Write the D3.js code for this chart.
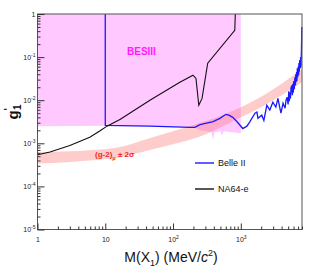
<!DOCTYPE html>
<html>
<head>
<meta charset="utf-8">
<script src="https://cdn.jsdelivr.net/npm/d3@7"></script>
<style>
body { margin: 0; background: #fff; }
text { font-family: "Liberation Sans", Arial, sans-serif; }
</style>
</head>
<body>
<div id="chart"></div>
<script>
// values (mass in MeV, coupling g'1)
const besBottomM = [1, 10, 200, 250, 370, 390, 410, 500, 525, 560, 1000]
const besBottomG = [2.5e-3, 2.55e-3, 2.35e-3, 2.0e-3, 1.8e-3, 1.2e-3, 1.8e-3, 1.9e-3, 1.5e-3, 1.9e-3, 1.7e-3]

const bandM  = [1, 3, 5.8, 16, 44, 100, 240, 935, 2000, 8000]
const bandLo = [3.4e-4, 3.7e-4, 4.0e-4, 4.7e-4, 6.9e-4, 9.5e-4, 1.4e-3, 3.8e-3, 6.9e-3, 2.6e-2]
const bandHi = [6.2e-4, 6.5e-4, 6.9e-4, 8.1e-4, 1.3e-3, 1.9e-3, 2.9e-3, 6.5e-3, 1.2e-2, 5.2e-2]

const belleM = [10, 10, 46, 178, 210, 250, 390, 492, 603, 665, 762, 874, 1070, 1230, 1350, 1620, 1730, 1790, 2040, 2190,
  2420, 2680, 2970, 3290, 3530, 3910, 4200, 4500, 4650, 4820, 4990, 5100, 5200, 5300, 5400, 5500, 5660, 5760, 5860, 5950,
  6050, 6150, 6280, 6400, 6480, 6550, 6650, 6730, 6820, 6900, 7050, 7130, 7210, 7300, 7400, 7550, 7650, 7730, 7850, 7950]
const belleG = [1, 2.6e-3, 2.5e-3, 2.35e-3, 2.35e-3, 2.7e-3, 3.2e-3, 3.8e-3, 4.7e-3, 4.5e-3, 4.0e-3, 3.2e-3, 2.2e-3, 2.5e-3, 3.1e-3, 5.0e-3, 5.3e-3, 3.8e-3, 4.5e-3, 3.4e-3,
  7.6e-3, 5.9e-3, 9.0e-3, 6.9e-3, 1.1e-2, 5.0e-3, 8.5e-3, 6.5e-3, 1.0e-2, 1.17e-2, 8.0e-3, 1.6e-2, 9.5e-3, 1.5e-2, 1.1e-2, 1.9e-2, 2.2e-2, 1.3e-2, 2.4e-2, 1.5e-2,
  2.8e-2, 1.8e-2, 3.4e-2, 2.2e-2, 4.0e-2, 2.6e-2, 4.5e-2, 2.8e-2, 5.5e-2, 3.4e-2, 6.0e-2, 3.8e-2, 7.3e-2, 4.6e-2, 8.5e-2, 5.5e-2, 0.1, 6.0e-2, 0.15, 0.5]

const na64M = [1, 1.53, 3.0, 5.9, 8.4, 10.6, 16.7, 45.6, 126, 197, 218, 240, 268, 325, 815, 830]
const na64G = [5.4e-4, 6.3e-4, 8.9e-4, 1.38e-3, 1.95e-3, 2.5e-3, 3.6e-3, 1.0e-2, 2.6e-2, 3.8e-2, 3.2e-2, 7.6e-3, 1.1e-2, 7.2e-2, 0.42, 1]

const xMajor = [1, 10, 100, 1000]
const xLabels = [["1", ""], ["10", ""], ["10", "2"], ["10", "3"]]
const yMajor = [1, 1e-1, 1e-2, 1e-3, 1e-4, 1e-5]
const yLabels = [["1", ""], ["10", "-1"], ["10", "-2"], ["10", "-3"], ["10", "-4"], ["10", "-5"]]

const width = 319, height = 277
const svg = d3.select("#chart").append("svg")
  .attr("width", width)
  .attr("height", height)

const x = d3.scaleLog().domain([1, 8000]).range([37.5, 302])
const y = d3.scaleLog().domain([1e-5, 1]).range([229.5, 14])

// BESIII excluded region
const besPts = [[1, 1], [1000, 1]]
for (let i = besBottomM.length - 1; i >= 0; i--) besPts.push([besBottomM[i], besBottomG[i]])
svg.append("path")
  .attr("d", d3.line().x(d => x(d[0])).y(d => y(d[1]))(besPts) + "Z")
  .attr("fill", "#ffc8ff")

// (g-2) band
const band = bandM.map((m, i) => ({m, lo: bandLo[i], hi: bandHi[i]}))
svg.append("path")
  .datum(band)
  .attr("d", d3.area().x(d => x(d.m)).y0(d => y(d.lo)).y1(d => y(d.hi)).curve(d3.curveMonotoneX))
  .attr("fill", "#ff7a7a")
  .attr("fill-opacity", 0.38)

const line = d3.line().x(d => x(d[0])).y(d => y(d[1]))

svg.append("path")
  .attr("d", line(belleM.map((m, i) => [m, belleG[i]])))
  .attr("fill", "none")
  .attr("stroke", "#1a1aff")
  .attr("stroke-width", 1.3)

svg.append("path")
  .attr("d", line(na64M.map((m, i) => [m, na64G[i]])))
  .attr("fill", "none")
  .attr("stroke", "#111")
  .attr("stroke-width", 1.1)

// frame
svg.append("rect")
  .attr("x", x.range()[0]).attr("y", y.range()[1])
  .attr("width", x.range()[1] - x.range()[0])
  .attr("height", y.range()[0] - y.range()[1])
  .attr("fill", "none")
  .attr("stroke", "#555")
  .attr("stroke-width", 1)

// axes: minor + major ticks pointing inward
const xMinor = x.ticks().filter(v => !xMajor.includes(v))
const yMinor = y.ticks().filter(v => !yMajor.some(m => Math.abs(m - v) / v < 1e-6))

function styleAxis(g) {
  g.select(".domain").remove()
  g.selectAll(".tick line").attr("stroke", "#333")
}

svg.append("g")
  .attr("transform", `translate(0,${y.range()[0]})`)
  .call(d3.axisBottom(x).tickValues(xMinor).tickSize(-3).tickFormat(""))
  .call(styleAxis)

const xg = svg.append("g")
  .attr("transform", `translate(0,${y.range()[0]})`)
  .call(d3.axisBottom(x).tickValues(xMajor).tickSize(-6).tickPadding(9).tickFormat(""))
  .call(styleAxis)

svg.append("g")
  .attr("transform", `translate(${x.range()[0]},0)`)
  .call(d3.axisLeft(y).tickValues(yMinor).tickSize(-3).tickFormat(""))
  .call(styleAxis)

const yg = svg.append("g")
  .attr("transform", `translate(${x.range()[0]},0)`)
  .call(d3.axisLeft(y).tickValues(yMajor).tickSize(-7).tickFormat(""))
  .call(styleAxis)

function powText(sel, lab) {
  sel.text(lab[0])
  if (lab[1]) sel.append("tspan").attr("font-size", 5).attr("dy", -3).text(lab[1])
}

xg.selectAll(".tick text").each(function(d, i) {
  const t = d3.select(this).attr("fill", "#222").attr("font-size", 7).attr("dy", null).attr("y", 12.5)
  powText(t, xLabels[i])
})

yg.selectAll(".tick text").each(function(d, i) {
  const t = d3.select(this).attr("fill", "#222").attr("font-size", 7).attr("x", -2).attr("dy", "0.35em")
  powText(t, yLabels[i])
})

// titles
const xt = svg.append("text")
  .attr("x", 171).attr("y", 262)
  .attr("text-anchor", "middle")
  .attr("font-size", 14)
  .attr("fill", "#111")
xt.append("tspan").text("M(X")
xt.append("tspan").attr("font-size", 9).attr("dy", 4).text("1")
xt.append("tspan").attr("dy", -4).text(") (MeV/")
xt.append("tspan").attr("font-style", "italic").text("c")
xt.append("tspan").attr("font-size", 9).attr("dy", -6).text("2")
xt.append("tspan").attr("dy", 6).text(")")

const yt = svg.append("text")
  .attr("transform", "translate(18,112) rotate(-90)")
  .attr("text-anchor", "middle")
  .attr("font-size", 15)
  .attr("font-weight", "bold")
  .attr("fill", "#111")
yt.append("tspan").text("g")
yt.append("tspan").attr("font-size", 10).attr("dy", -6).text("'")
yt.append("tspan").attr("font-size", 10).attr("dx", -2).attr("dy", 9).text("1")

svg.append("text")
  .attr("x", 127).attr("y", 55)
  .attr("font-size", 10)
  .attr("font-weight", "bold")
  .attr("fill", "#ff1aff")
  .text("BESIII")

const gt = svg.append("text")
  .attr("x", 95).attr("y", 157)
  .attr("font-size", 8)
  .attr("font-weight", "bold")
  .attr("fill", "#f02828")
gt.append("tspan").text("(g-2)")
gt.append("tspan").attr("font-size", 5.5).attr("dy", 3).text("\u03bc")
gt.append("tspan").attr("dy", -3).text(" \u00b1 2\u03c3")

// legend
const legend = [["Belle II", "#1a1aff", 166], ["NA64-e", "#111", 192]]
legend.forEach(([name, col, ly]) => {
  svg.append("line")
    .attr("x1", 195).attr("x2", 214).attr("y1", ly - 3).attr("y2", ly - 3)
    .attr("stroke", col).attr("stroke-width", 1.4)
  svg.append("text")
    .attr("x", 218).attr("y", ly)
    .attr("font-size", 9)
    .attr("fill", "#111")
    .text(name)
})
</script>
</body>
</html>
